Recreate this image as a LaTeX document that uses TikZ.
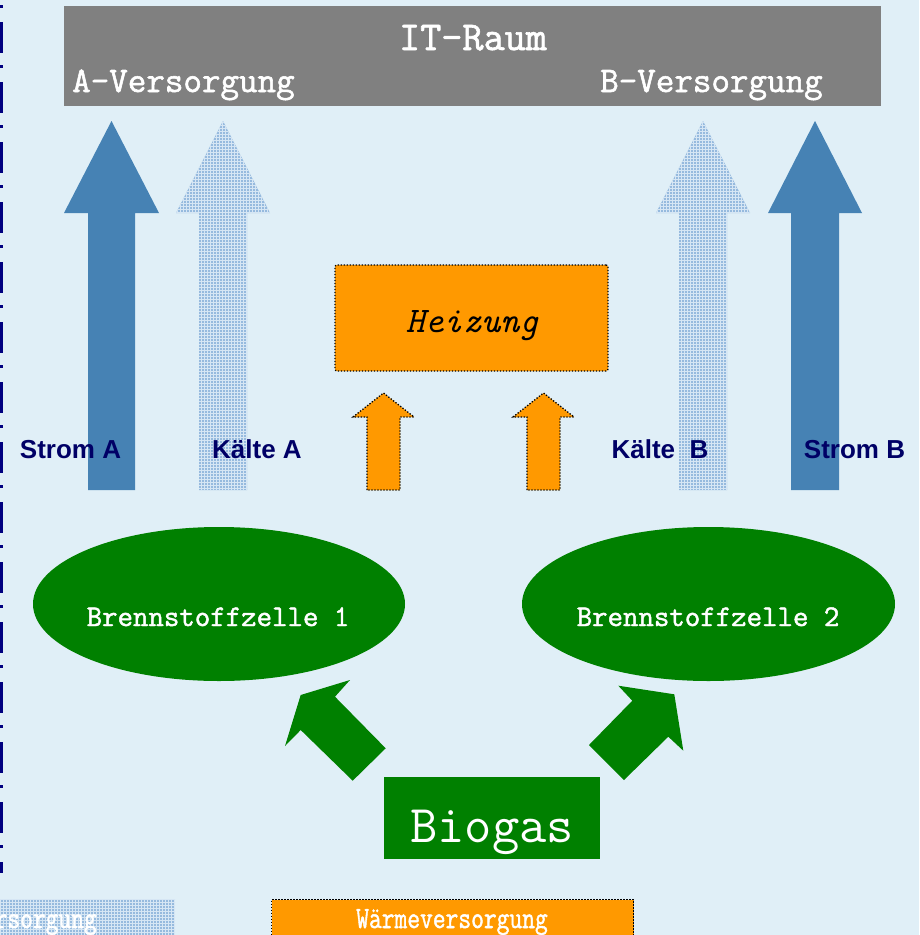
\documentclass[tikz,border=0pt]{standalone}
\usepackage{fontspec}
\newfontfamily\labelfont{Liberation Sans}
\newfontfamily\heavymono[FakeBold=1.6]{Latin Modern Mono}
\usetikzlibrary{shapes.geometric,patterns}
\definecolor{bgblue}{RGB}{224,239,247}
\definecolor{topgray}{RGB}{128,128,128}
\definecolor{steel}{RGB}{70,130,180}
\definecolor{coldblue}{RGB}{150,186,222}
\definecolor{gridwhite}{RGB}{214,230,244}
\definecolor{heatorange}{RGB}{255,153,0}
\definecolor{fcgreen}{RGB}{0,128,0}
\definecolor{labelnavy}{RGB}{0,0,102}
\definecolor{linenavy}{RGB}{0,0,128}
\tikzset{
  powerarrow/.style={fill=steel},
  coldarrow/.style={fill=coldblue},
  coldgrid/.style={pattern=grid, pattern color=gridwhite},
  heatarrow/.style={fill=heatorange, draw=black, line width=1.3pt, dash pattern=on 1.3pt off 1.7pt},
  gasarrow/.style={fill=fcgreen},
  flowlabel/.style={font=\labelfont\fontsize{26}{26}\selectfont\bfseries, text=labelnavy, inner sep=0pt, anchor=base},
  monotext/.style={text=white, inner sep=0pt}
}
\begin{document}
\begin{tikzpicture}[x=1pt,y=-1pt]
\useasboundingbox (0,0) rectangle (919,935);
\clip (0,0) rectangle (919,935);
\fill[bgblue] (0,0) rectangle (919,935);
% left dash-dot line
\draw[linenavy, line width=3pt, dash pattern=on 3pt off 14pt on 31pt off 12pt] (1.5,5) -- (1.5,873);
% IT room
\node[fill=topgray, minimum width=817pt, minimum height=100pt, inner sep=0pt, anchor=north west] (itraum) at (64,6) {};
\node[monotext, font=\heavymono\fontsize{41}{41}\selectfont, anchor=base] (ittitle) at (473,50) {IT-Raum};
\node[monotext, font=\heavymono\fontsize{36}{36}\selectfont, anchor=base west] (aversorg) at (72,92) {A-Versorgung};
\node[monotext, font=\heavymono\fontsize{36}{36}\selectfont, anchor=base west] (bversorg) at (600,92) {B-Versorgung};
% power arrows
\fill[powerarrow] (88,490) -- (88,213) -- (64,213) -- (111.5,121) -- (159,213) -- (135,213) -- (135,490) -- cycle;
\fill[powerarrow] (791,490) -- (791,213) -- (768,213) -- (815,121) -- (862,213) -- (839,213) -- (839,490) -- cycle;
% cooling arrows
\foreach \cx in {223,703}{
  \fill[coldarrow] (\cx-24,490) -- (\cx-24,213) -- (\cx-47,213) -- (\cx,121) -- (\cx+47,213) -- (\cx+24,213) -- (\cx+24,490) -- cycle;
  \fill[coldgrid] (\cx-24,490) -- (\cx-24,213) -- (\cx-47,213) -- (\cx,121) -- (\cx+47,213) -- (\cx+24,213) -- (\cx+24,490) -- cycle;
}
% labels
\node[flowlabel] (stroma) at (70.5,458) {Strom A};
\node[flowlabel] (kaltea) at (257,458) {Kälte A};
\node[flowlabel] (kalteb) at (660,458) {Kälte\ \ B};
\node[flowlabel] (stromb) at (854.5,458) {Strom B};
% heating
\node[fill=heatorange, draw=black, line width=1.3pt, dash pattern=on 1.3pt off 1.7pt, rounded corners=2pt, minimum width=273pt, minimum height=106pt, inner sep=0pt] (heizung) at (471.5,318) {};
\node[inner sep=0pt, anchor=base, font=\ttfamily\itshape\fontsize{36}{36}\selectfont] (heiztext) at (472,332) {Heizung};
\draw[heatarrow] (367,490) -- (367,417) -- (353,417) -- (383.5,393) -- (414,417) -- (400,417) -- (400,490) -- cycle;
\draw[heatarrow] (527,490) -- (527,417) -- (513,417) -- (543.5,393) -- (574,417) -- (560,417) -- (560,490) -- cycle;
% fuel cells
\node[ellipse, fill=fcgreen, minimum width=372pt, minimum height=154pt, inner sep=0pt] (fc1) at (219,604) {};
\node[ellipse, fill=fcgreen, minimum width=373pt, minimum height=154pt, inner sep=0pt] (fc2) at (708.5,604) {};
\node[monotext, font=\heavymono\fontsize{30}{30}\selectfont, anchor=base] (fc1t) at (218,626) {Brennstoffzelle 1};
\node[monotext, font=\heavymono\fontsize{30}{30}\selectfont, anchor=base] (fc2t) at (708,626) {Brennstoffzelle 2};
% gas arrows
\fill[gasarrow] (300.7,695) -- (350,680) -- (335,696.7) -- (385.7,748.3) -- (352.7,780.7) -- (300.7,730) -- (285,746) -- cycle;
\fill[gasarrow] (674.3,694.3) -- (683.3,750.7) -- (668.3,736.7) -- (624,780) -- (589,745) -- (632.3,700.7) -- (618.3,685.7) -- cycle;
% biogas
\node[fill=fcgreen, minimum width=216pt, minimum height=82pt, inner sep=0pt, anchor=north west] (biogas) at (384,777) {};
\node[monotext, font=\ttfamily\fontsize{53}{53}\selectfont, anchor=base] (biogast) at (492,842) {Biogas};
% legend boxes
\fill[coldarrow] (-10,899) rectangle (175,945);
\fill[coldgrid] (-10,899) rectangle (175,945);
\node[monotext, font=\heavymono\fontsize{31}{31}\selectfont, anchor=base east] (kaltelegend) at (97,928) {\scalebox{0.8}[1]{Kälteversorgung}};
\node[fill=heatorange, draw=black, line width=1.3pt, dash pattern=on 1.3pt off 1.7pt, minimum width=362pt, minimum height=46pt, inner sep=0pt, anchor=north west] (warmbox) at (271,899) {};
\node[monotext, font=\heavymono\fontsize{31}{31}\selectfont, anchor=base] (warmtext) at (452,928) {\scalebox{0.8}[1]{Wärmeversorgung}};
\end{tikzpicture}
\end{document}
